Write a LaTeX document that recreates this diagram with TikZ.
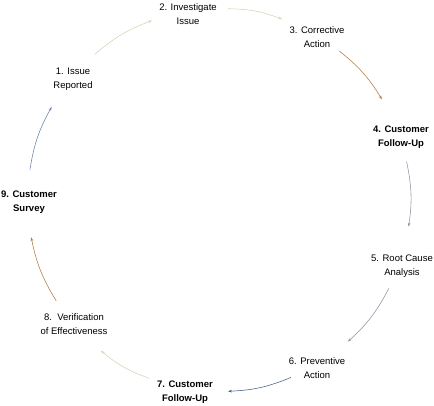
\documentclass[tikz,border=0pt]{standalone}
\usepackage{fontspec}
\setmainfont{Liberation Sans}
\usetikzlibrary{arrows.meta,calc}
\definecolor{tanlight}{HTML}{DCCFB4}
\definecolor{brownarr}{HTML}{B07A40}
\definecolor{greyblue}{HTML}{8A95A8}
\definecolor{bluearr}{HTML}{3C5F8C}
\definecolor{bluegrey}{HTML}{6A80A8}
\begin{document}
\begin{tikzpicture}[x=1pt,y=1pt,
  lbl/.style={align=center,font=\fontsize{9.5}{14}\selectfont,inner sep=1pt},
  blbl/.style={lbl,font=\fontsize{9.5}{14}\selectfont\bfseries},
  conn/.style={-{Stealth[length=4pt,width=2.6pt]},line width=0.55pt,bend left=10}]
\useasboundingbox (0,0) rectangle (434,406);
\coordinate (c) at (219,206);
\def\R{191.5}
\node[lbl]  (n1) at (73,327) {1. Issue\\Reported};
\node[lbl]  (n2) at (188,392) {2. Investigate\\Issue};
\node[lbl]  (n3) at (317,369) {3. Corrective\\Action};
\node[blbl] (n4) at (401,269) {4. Customer\\Follow-Up};
\node[lbl]  (n5) at (402,140) {5. Root Cause\\Analysis};
\node[lbl]  (n6) at (317,38) {6. Preventive\\Action};
\node[blbl] (n7) at (185,14) {7. Customer\\Follow-Up};
\node[lbl]  (n8) at (74,82) {8.\ \ Verification\\of Effectiveness};
\node[blbl] (n9) at (29,204) {9. Customer\\Survey};
% arc end points
\coordinate (s12) at ($(c)+(130.5:\R)$); \coordinate (e12) at ($(c)+(110.4:\R)$);
\coordinate (s23) at ($(c)+(87.3:\R)$);  \coordinate (e23) at ($(c)+(70.7:\R)$);
\coordinate (s34) at ($(c)+(51.1:\R)$);  \coordinate (e34) at ($(c)+(31.7:\R)$);
\coordinate (s45) at ($(c)+(11.6:\R)$);  \coordinate (e45) at ($(c)+(-8:\R)$);
\coordinate (s56) at ($(c)+(-27.5:\R)$); \coordinate (e56) at ($(c)+(-47.7:\R)$);
\coordinate (s67) at ($(c)+(-67.9:\R)$); \coordinate (e67) at ($(c)+(-87.3:\R)$);
\coordinate (s78) at ($(c)+(-111.4:\R)$);\coordinate (e78) at ($(c)+(-128.1:\R)$);
\coordinate (s89) at ($(c)+(-148.2:\R)$);\coordinate (e89) at ($(c)+(-168.8:\R)$);
\coordinate (s91) at ($(c)+(170.9:\R)$); \coordinate (e91) at ($(c)+(150.9:\R)$);
\draw[conn,tanlight]  (s12) to (e12);
\draw[conn,tanlight]  (s23) to (e23);
\draw[conn,brownarr]  (s34) to (e34);
\draw[conn,greyblue]  (s45) to (e45);
\draw[conn,greyblue]  (s56) to (e56);
\draw[conn,bluearr]   (s67) to (e67);
\draw[conn,tanlight]  (s78) to (e78);
\draw[conn,brownarr]  (s89) to (e89);
\draw[conn,bluegrey]  (s91) to (e91);
\end{tikzpicture}
\end{document}
